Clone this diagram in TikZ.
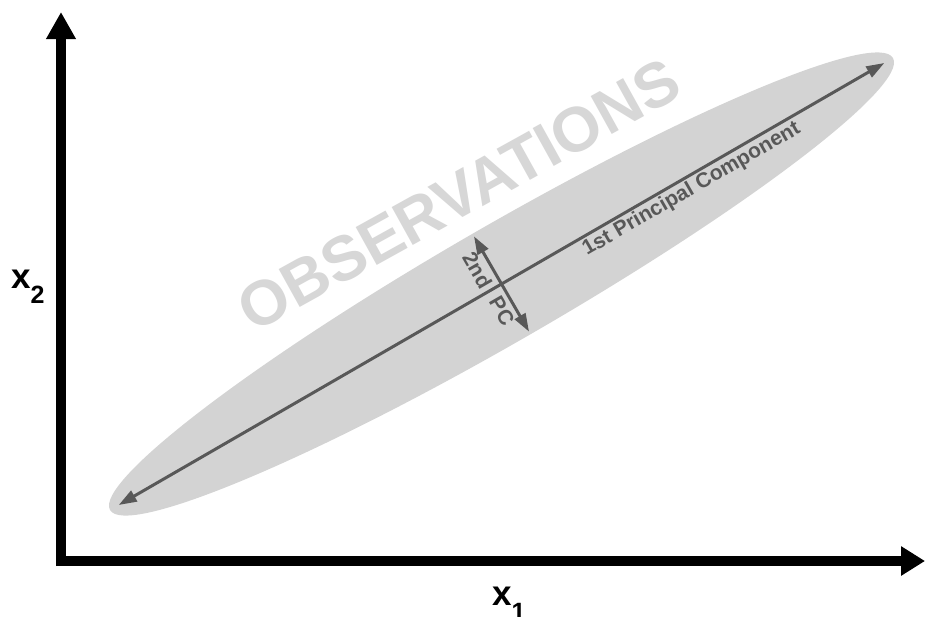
\documentclass[tikz,border=0pt]{standalone}
\usepackage{fontspec}
\setmainfont{Liberation Sans}
\usetikzlibrary{arrows.meta,calc}
\definecolor{ellgray}{HTML}{D3D3D3}
\definecolor{obsgray}{HTML}{D7D7D7}
\definecolor{pcgray}{HTML}{585858}
\newcommand{\halotext}[1]{\special{pdf:literal direct 1 Tr 6 w 1 j 1 J}#1\special{pdf:literal direct 0 Tr}}
\begin{document}
\begin{tikzpicture}[x=1pt,y=-1pt,
  axisv/.style={line width=10pt,-{Triangle[length=27pt,width=28pt]}},
  axish/.style={line width=10pt,-{Triangle[length=24pt,width=28pt]}},
  pcarrow/.style={draw=pcgray,line width=3pt,{Triangle[length=18pt,width=12pt]}-{Triangle[length=18pt,width=12pt]}},
  lbl/.style={font=\bfseries\fontsize{21}{21}\selectfont,text=pcgray,inner sep=0pt},
  obs/.style={font=\bfseries\fontsize{63}{63}\selectfont,inner sep=0pt,rotate=29},
  axlbl/.style={font=\bfseries\fontsize{35}{35}\selectfont,inner sep=0pt,anchor=base west}]
\useasboundingbox (0,0) rectangle (925,616);
\fill[white] (0,0) rectangle (925,616);
% ellipse of observations
\coordinate (C) at (501.5,284);
\fill[ellgray, rotate around={30:(C)}] (C) ellipse [x radius=452pt, y radius=58pt];
% watermark text with white halo
\coordinate (T) at (459,195);
\node[obs,text=white] (halo) at (T) {\halotext{OBSERVATIONS}};
\node[obs,text=obsgray] (obstext) at (T) {OBSERVATIONS};
% principal components
\coordinate (A) at (118.7,505);
\coordinate (B) at (884.3,63);
\coordinate (P1) at (474,236.4);
\coordinate (P2) at (529,331.6);
\draw[pcarrow] (A) -- (B);
\draw[pcarrow] (P1) -- (P2);
\node[lbl,rotate=30] (pc1) at (691.6,189.3) {1st Principal Component};
\node[lbl,rotate=-60] (pc2a) at (477.4,270.2) {2nd};
\node[lbl,rotate=-60] (pc2b) at (502,310.9) {PC};
% axes
\coordinate (O) at (61,566);
\coordinate (Ytip) at (61,12);
\coordinate (O2) at (56,561);
\coordinate (Xtip) at (925,561);
\draw[axisv] (O) -- (Ytip);
\draw[axish] (O2) -- (Xtip);
\node[axlbl] (x2) at (11,288) {x\raisebox{-15pt}{\fontsize{25}{25}\selectfont 2}};
\node[axlbl] (x1) at (492,605) {x\raisebox{-15pt}{\fontsize{25}{25}\selectfont 1}};
\end{tikzpicture}
\end{document}
